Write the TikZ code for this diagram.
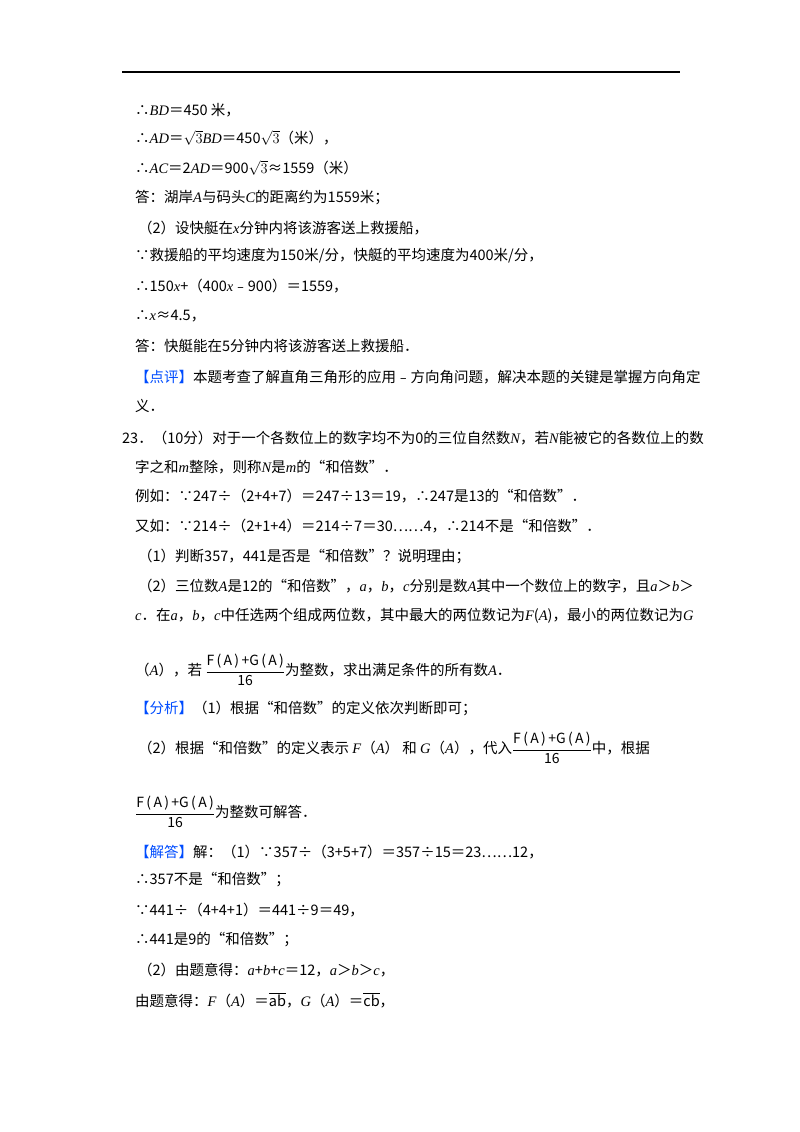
\documentclass[tikz,border=0pt]{standalone}
\usepackage{amsmath}
\usepackage{fontspec}
\setmainfont{Noto Sans CJK SC}
\newfontfamily\tm{Liberation Serif}
\newcommand\V[1]{{\tm\itshape #1}}
\newcommand\fr{$\dfrac{\text{\fontsize{14}{14}\selectfont F\,(\,A\,)\,+G\,(\,A\,)}}{\text{\fontsize{14}{14}\selectfont 16}}$}
\begin{document}
\begin{tikzpicture}[x=1pt,y=-1pt,
  ln/.style={anchor=west,inner sep=0pt,font=\fontsize{14.5}{16}\selectfont}]
\useasboundingbox (0,0) rectangle (800,1132);
\draw[line width=1.2pt] (122,72) -- (680,72);
\node[ln] (l1) at (135,110) {∴\V{BD}＝450 米，};
\node[ln] (l2) at (135,138) {∴\V{AD}＝$\sqrt{3}$\V{BD}＝450$\sqrt{3}$（米），};
\node[ln] (l3) at (135,168) {∴\V{AC}＝2\V{AD}＝900$\sqrt{3}$≈1559（米）};
\node[ln] (l4) at (135,198) {答：湖岸\V{A}与码头\V{C}的距离约为1559米；};
\node[ln] (l5) at (138,228) {（2）设快艇在\V{x}分钟内将该游客送上救援船，};
\node[ln] (l6) at (135,256) {∵救援船的平均速度为150米/分，快艇的平均速度为400米/分，};
\node[ln] (l7) at (135,286) {∴150\V{x}+（400\V{x}﹣900）＝1559，};
\node[ln] (l8) at (135,316) {∴\V{x}≈4.5，};
\node[ln] (l9) at (135,346) {答：快艇能在5分钟内将该游客送上救援船．};
\node[ln] (l10) at (135,377) {{\color{blue!70!cyan}【点评】}本题考查了解直角三角形的应用﹣方向角问题，解决本题的关键是掌握方向角定};
\node[ln] (l11) at (135,406) {义．};
\node[ln] (l12) at (122,438) {23．（10分）对于一个各数位上的数字均不为0的三位自然数\V{N}，若\V{N}能被它的各数位上的数};
\node[ln] (l13) at (135,467) {字之和\V{m}整除，则称\V{N}是\V{m}的“和倍数”．};
\node[ln] (l14) at (135,496) {例如：∵247÷（2+4+7）＝247÷13＝19，∴247是13的“和倍数”．};
\node[ln] (l15) at (135,526) {又如：∵214÷（2+1+4）＝214÷7＝30……4，∴214不是“和倍数”．};
\node[ln] (l16) at (138,556) {（1）判断357，441是否是“和倍数”？说明理由；};
\node[ln] (l17) at (138,586) {（2）三位数\V{A}是12的“和倍数”，\V{a}，\V{b}，\V{c}分别是数\V{A}其中一个数位上的数字，且\V{a}＞\V{b}＞};
\node[ln] (l18) at (135,616) {\V{c}．在\V{a}，\V{b}，\V{c}中任选两个组成两位数，其中最大的两位数记为\V{F}(\V{A})，最小的两位数记为\V{G}};
\node[ln] (l19) at (135,670) {（\V{A}），若 \fr 为整数，求出满足条件的所有数\V{A}．};
\node[ln] (l20) at (135,708) {{\color{blue!70!cyan}【分析】}（1）根据“和倍数”的定义依次判断即可；};
\node[ln] (l21) at (138,748) {（2）根据“和倍数”的定义表示 \V{F}（\V{A}） 和 \V{G}（\V{A}），代入\fr 中，根据};
\node[ln] (l22) at (135,812) {\fr 为整数可解答．};
\node[ln] (l23) at (135,852) {{\color{blue!70!cyan}【解答】}解：（1）∵357÷（3+5+7）＝357÷15＝23……12，};
\node[ln] (l24) at (135,880) {∴357不是“和倍数”；};
\node[ln] (l25) at (135,910) {∵441÷（4+4+1）＝441÷9＝49，};
\node[ln] (l26) at (135,940) {∴441是9的“和倍数”；};
\node[ln] (l27) at (138,970) {（2）由题意得：\V{a}+\V{b}+\V{c}＝12，\V{a}＞\V{b}＞\V{c}，};
\node[ln] (l28) at (135,1000) {由题意得：\V{F}（\V{A}）＝$\overline{\text{ab}}$，\V{G}（\V{A}）＝$\overline{\text{cb}}$，};
\end{tikzpicture}
\end{document}
